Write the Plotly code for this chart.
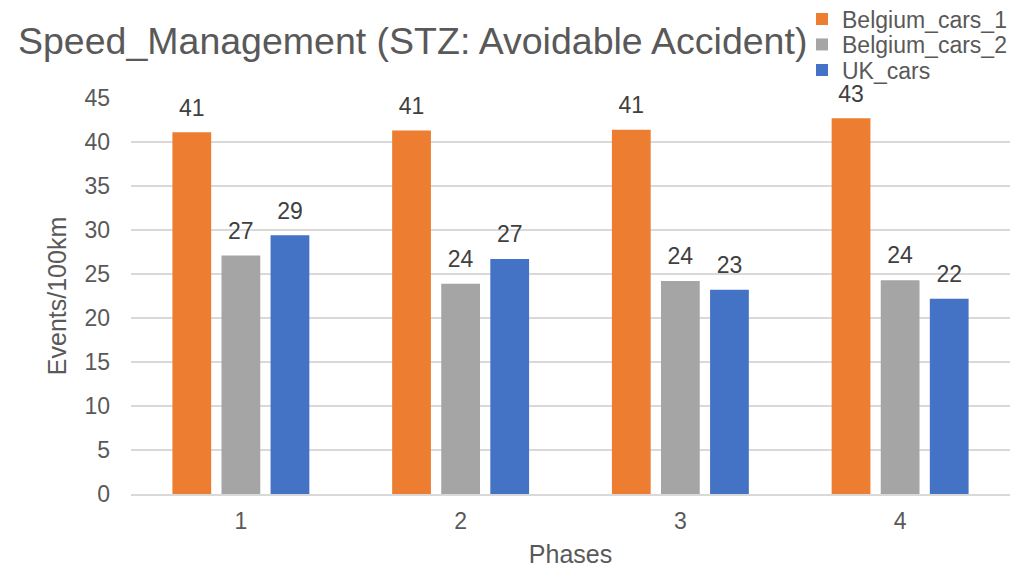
import plotly.graph_objects as go

phases = ["1", "2", "3", "4"]
belgium_cars_1 = [41.1, 41.3, 41.4, 42.7]
belgium_cars_2 = [27.1, 23.9, 24.2, 24.3]
uk_cars = [29.4, 26.7, 23.2, 22.2]

series = [
    ("Belgium_cars_1", belgium_cars_1, "#ED7D31", "legend"),
    ("Belgium_cars_2", belgium_cars_2, "#A5A5A5", "legend2"),
    ("UK_cars", uk_cars, "#4472C4", "legend3"),
]

FONT = "Liberation Sans, Arial, sans-serif"
fig = go.Figure()
for i, (name, vals, color, lg) in enumerate(series):
    fig.add_trace(go.Bar(
        x=phases, y=vals, name=name, marker_color=color,
        marker_line_width=0, legend=lg, offsetgroup=str(i),
    ))
for i, (name, vals, color, lg) in enumerate(series):
    fig.add_trace(go.Scatter(
        x=phases, y=vals, mode="markers+text", showlegend=False,
        text=[f"{v:.0f}" for v in vals], textposition="top center",
        textfont=dict(size=23, color="#404040", family=FONT),
        marker=dict(size=16, opacity=0), offsetgroup=str(i),
        cliponaxis=False, hoverinfo="skip",
    ))

legend_common = dict(
    xanchor="left", yanchor="middle", bgcolor="rgba(0,0,0,0)",
    xref="container", yref="container",
    font=dict(size=23, color="#595959", family=FONT),
)
fig.update_layout(
    width=1015, height=568,
    paper_bgcolor="white", plot_bgcolor="white",
    margin=dict(l=131, r=5, t=98, b=74, autoexpand=False),
    barmode="group", bargap=0.33, bargroupgap=0.21,
    scattermode="group", scattergap=0.33,
    title=dict(
        text="Speed_Management (STZ: Avoidable Accident)",
        font=dict(size=37.5, color="#595959", family=FONT),
        x=18 / 1015, xanchor="left", xref="container",
        y=1 - 41 / 568, yanchor="middle", yref="container",
    ),
    legend=dict(x=802 / 1015, y=1 - 19 / 568, **legend_common),
    legend2=dict(x=802 / 1015, y=1 - 44.5 / 568, **legend_common),
    legend3=dict(x=802 / 1015, y=1 - 70 / 568, **legend_common),
    font=dict(family=FONT, color="#595959"),
)
fig.update_yaxes(
    range=[0, 45], dtick=5, showgrid=True, gridcolor="#D9D9D9", gridwidth=1.5,
    zeroline=False, showline=False, automargin=False,
    tickfont=dict(size=23, color="#595959", family=FONT),
    ticklabelstandoff=20,
    title=dict(text="Events/100km", font=dict(size=25, color="#595959", family=FONT), standoff=10),
)
fig.update_xaxes(
    type="category", showline=True, linecolor="#D9D9D9", linewidth=1.5,
    showgrid=False, automargin=False,
    tickfont=dict(size=23, color="#595959", family=FONT),
    ticklabelstandoff=6,
    title=dict(text="Phases", font=dict(size=25, color="#595959", family=FONT), standoff=18),
)
fig.write_html(
    "out.html",
    config={"displayModeBar": False},
    post_script="document.body.style.margin='0';document.body.style.overflow='hidden';",
)
